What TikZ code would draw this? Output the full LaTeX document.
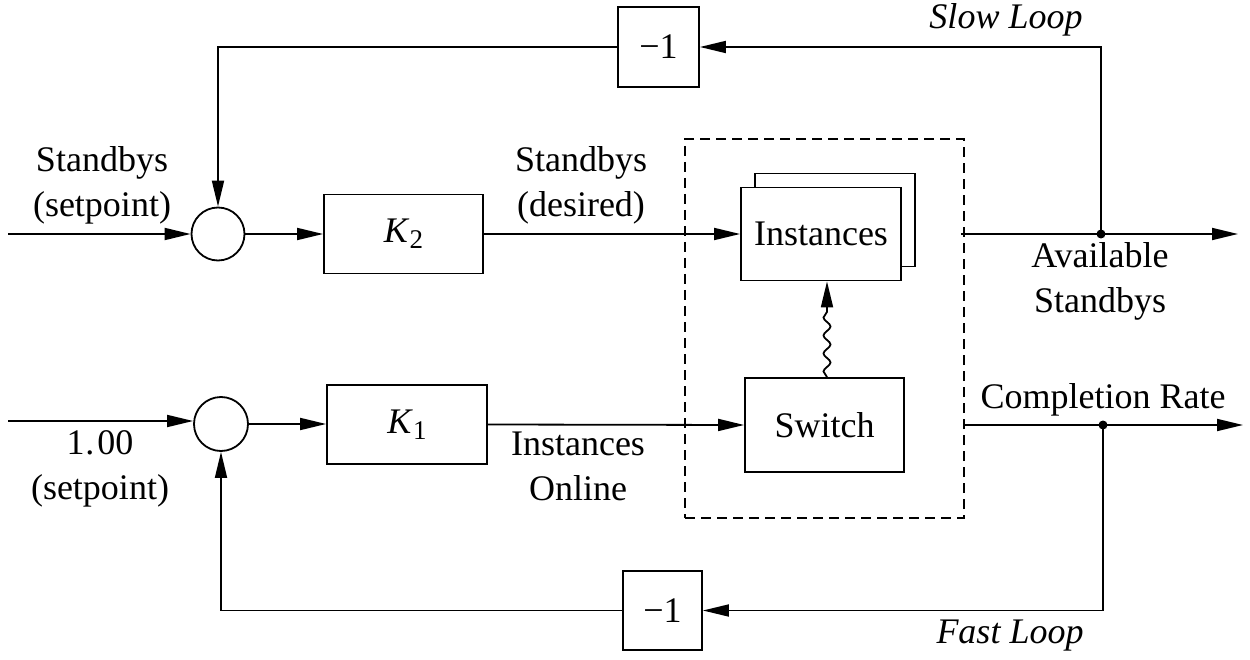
\documentclass[tikz,border=0pt]{standalone}
\usepackage{fontspec}
\setmainfont{Liberation Serif}
\usetikzlibrary{arrows.meta,decorations.pathmorphing}
\begin{document}
\begin{tikzpicture}[x=1pt,y=1pt,
  line width=1.8pt,
  every node/.style={font=\fontsize{36}{45}\selectfont},
  arr/.style={-{Triangle[length=26pt,width=12pt]}},
  blk/.style={draw,rectangle,inner sep=0pt,fill=white},
  sumc/.style={draw,circle,inner sep=0pt},
  lbl/.style={align=center,inner sep=0pt},
  dot/.style={circle,fill=black,inner sep=0pt,minimum size=9pt}]
\useasboundingbox (0,0) rectangle (1250,-660);
% dashed system box
\node[draw,dashed,dash pattern=on 10pt off 6pt,rectangle,inner sep=0pt,minimum width=279pt,minimum height=379pt] (sys) at (824.5,-328.5) {};
% summing junctions
\node[sumc,minimum size=53pt] (sum2) at (218,-234) {};
\node[sumc,minimum size=54pt] (sum1) at (221,-424) {};
% gain blocks
\node[blk,minimum width=159pt,minimum height=79pt] (K2) at (403.5,-234) {\textit{K}\raisebox{-0.35ex}{\fontsize{27}{27}\selectfont 2}};
\node[blk,minimum width=160pt,minimum height=79pt] (K1) at (407,-424.5) {\textit{K}\raisebox{-0.35ex}{\fontsize{27}{27}\selectfont 1}};
% instances (stacked) and switch
\node[blk,minimum width=160pt,minimum height=93pt] (instb) at (835,-220) {};
\node[blk,minimum width=160pt,minimum height=93pt] (inst) at (821,-234) {Instances};
\node[blk,minimum width=159pt,minimum height=94pt] (sw) at (824.5,-425) {Switch};
% -1 blocks
\node[blk,minimum width=81pt,minimum height=80pt] (neg2) at (658.5,-47) {−1};
\node[blk,minimum width=79pt,minimum height=79pt] (neg1) at (662.5,-610.5) {−1};
% junction dots and coordinates
\node[dot] (j2) at (1101,-234) {};
\node[dot] (j1) at (1103,-425) {};
\coordinate (in2) at (8,-234);
\coordinate (in1) at (8,-421);
\coordinate (out2) at (1238,-234);
\coordinate (out1) at (1243,-425);
\coordinate (c1) at (1103,-610.5);
% forward paths
\draw[arr] (in2) -- (sum2.west);
\draw[arr] (sum2.east) -- (K2.west);
\draw[arr] (K2.east) -- (inst.west);
\draw[arr] (in1) -- (sum1.west |- in1);
\draw[arr] (sum1.east) -- (K1.west |- sum1.east);
\draw[arr] (K1.east) -- (sw.west);
\draw[arr] ([xshift=-4pt]sys.east |- inst) -- (out2);
\draw[arr] (sys.east |- sw) -- (out1);
\draw[arr,decorate,decoration={snake,amplitude=3.5pt,segment length=18pt,post length=26pt}] ([xshift=2.5pt]sw.north) -- ([xshift=6pt]inst.south);
% feedback loops
\draw[arr] (j2.center) |- (neg2.east);
\draw[arr] (neg2.west) -| (sum2.north);
\draw[arr] (j1.center) -- (c1) -- (neg1.east);
\draw[arr] (neg1.west) -| (sum1.south);
% labels
\node[lbl] (l1) at (102,-185) {Standbys\\(setpoint)};
\node[lbl] (l2) at (581,-185) {Standbys\\(desired)};
\node[lbl] (l3) at (100,-469) {1\kern1pt.\kern3pt00\\(setpoint)};
\node[lbl] (l4) at (578,-466) {Instances\\Online};
\node[lbl] (l5) at (1100,-281) {Available\\Standbys};
\node[lbl] (l6) at (1103,-400) {Completion Rate};
\node[lbl] (l7) at (1006,-20) {\textit{Slow Loop}};
\node[lbl] (l8) at (1010,-636) {\textit{Fast Loop}};
\end{tikzpicture}
\end{document}
